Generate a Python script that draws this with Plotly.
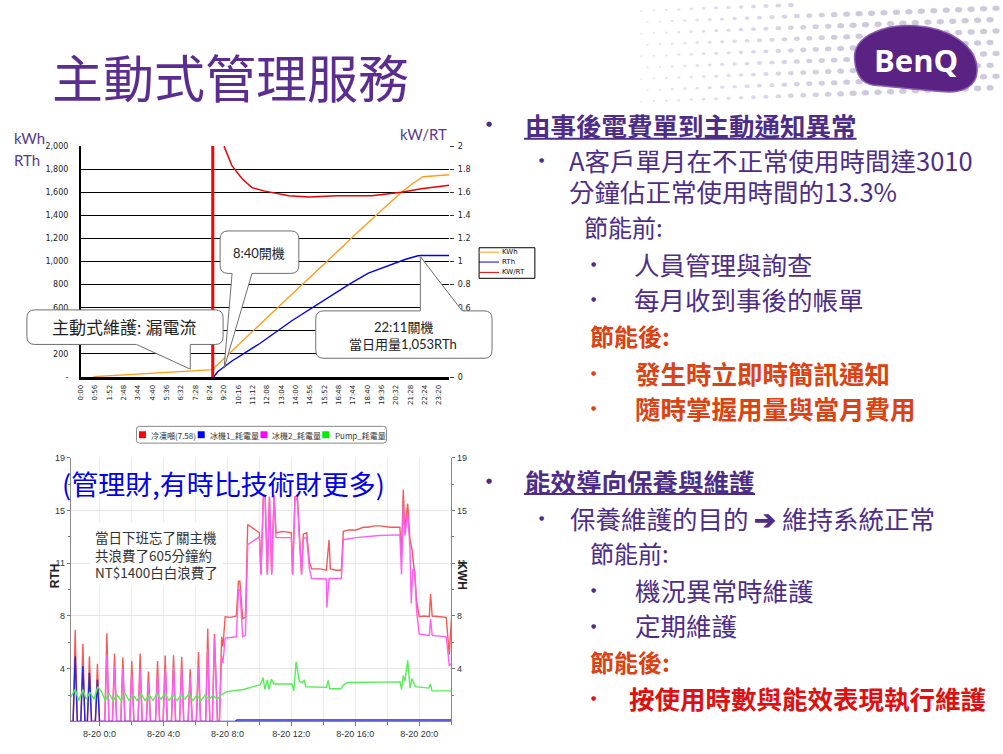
import plotly.graph_objects as go

W, H = 1003, 754


def X(px):
    return px / W


def Y(py):
    return 1 - py / H


# ---------------- top chart data (minutes after 0:00) ----------------
top_tick_labels = ["0:00", "0:56", "1:52", "2:48", "3:44", "4:40", "5:36", "6:32", "7:28",
                   "8:24", "9:20", "10:16", "11:12", "12:08", "13:04", "14:00", "14:56",
                   "15:52", "16:48", "17:44", "18:40", "19:36", "20:32", "21:28", "22:24", "23:20"]
top_tick_minutes = [0, 56, 112, 168, 224, 280, 336, 392, 448, 504, 560, 616, 672, 728, 784,
                    840, 896, 952, 1008, 1064, 1120, 1176, 1232, 1288, 1344, 1400]

kwh_minutes = [50, 150, 280, 410, 518, 522, 600, 700, 800, 900, 1000, 1100, 1200, 1253, 1300, 1337, 1400, 1440]
kwh_values = [3, 17, 32, 52, 64, 80, 248, 455, 665, 870, 1080, 1290, 1490, 1600, 1680, 1735, 1745, 1752]

rth_minutes = [520, 535, 591, 700, 825, 950, 1050, 1124, 1200, 1270, 1318, 1331, 1440]
rth_values = [0, 45, 139, 290, 487, 665, 805, 900, 965, 1020, 1050, 1053, 1053]

kwrt_minutes = [560, 591, 630, 669, 720, 813, 891, 1000, 1136, 1214, 1253, 1331, 1440]
kwrt_values = [2.0, 1.83, 1.72, 1.64, 1.61, 1.57, 1.56, 1.57, 1.57, 1.59, 1.60, 1.63, 1.66]

machine_on_minute = 516

left_tick_values = [0, 200, 400, 600, 800, 1000, 1200, 1400, 1600, 1800, 2000]
left_tick_text = ["-", "200", "400", "600", "800", "1,000", "1,200", "1,400", "1,600", "1,800", "2,000"]
right_tick_values = [0, 0.2, 0.4, 0.6, 0.8, 1.0, 1.2, 1.4, 1.6, 1.8, 2.0]
right_tick_text = ["0", "0.2", "0.4", "0.6", "0.8", "1", "1.2", "1.4", "1.6", "1.8", "2"]

top_legend_names = ["KWh", "RTh", "KW/RT"]
top_colors = ["#ff9c1a", "#0000ee", "#ee0000"]

# ---------------- bottom chart data (hours after 8-20 0:00) ----------------
bottom_tick_hours = [0, 4, 8, 12, 16, 20]
bottom_tick_text = ["8-20 0:0", "8-20 4:0", "8-20 8:0", "8-20 12:0", "8-20 16:0", "8-20 20:0"]
bottom_tick_values = [3.8, 7.6, 11.4, 15.2, 19]
bottom_tick_text_y = ["4", "8", "11", "15", "19"]

bottom_names = ["冷凍噸(7.58)", "冰機1_耗電量", "冰機2_耗電量", "Pump_耗電量"]
bottom_line_colors = ["#f45a5a", "#2a2ad0", "#ff5ef0", "#55ee55"]
bottom_key_colors = ["#ff0000", "#0000ff", "#ff00ff", "#00ee00"]

tons_t = [-1.83, -1.65, -1.52, -1.39, -1.17, -1.04, -0.91, -0.76, -0.63, -0.50, -0.26, -0.13, 0.00,
          0.33, 0.46, 0.59, 0.81, 0.94, 1.07, 1.33, 1.46, 1.59, 1.89, 2.02, 2.15, 2.41, 2.54, 2.67,
          2.93, 3.06, 3.19, 3.50, 3.63, 3.76, 3.98, 4.11, 4.24, 4.50, 4.63, 4.76, 5.01, 5.14, 5.27,
          5.54, 5.67, 5.80, 6.06, 6.19, 6.32, 6.64, 6.77, 6.90, 7.06, 7.19, 7.38, 7.50, 7.64, 7.72,
          7.86, 8.20, 8.56, 8.69, 8.78, 8.96, 9.13, 9.27, 9.63, 10.0, 10.1, 10.25, 10.36, 10.5, 10.63,
          10.77, 10.92, 11.04, 11.5, 12.0, 12.08, 12.23, 12.38, 12.5, 12.64, 12.75, 12.96, 13.13,
          13.27, 13.8, 14.19, 14.36, 14.44, 14.8, 15.13, 15.25, 15.6, 16.06, 16.5, 16.81, 17.2,
          17.54, 18.2, 18.79, 18.89, 19.0, 19.1, 19.28, 19.42, 19.56, 19.73, 19.83, 20.0, 20.3,
          20.63, 20.71, 20.81, 21.3, 21.69, 21.88, 22.02]
tons_v = [0, 0, 6.6, 0, 0, 5.6, 0, 0, 4.7, 0, 0, 4.15, 0,
          0, 6.35, 0, 0, 4.9, 0, 0, 4.6, 0, 0, 4.35, 0, 0, 4.9, 0,
          0, 3.6, 0, 0, 4.35, 0, 0, 4.75, 0, 0, 4.77, 0, 0, 4.65, 0,
          0, 3.75, 0, 0, 5.0, 0, 0, 6.7, 0, 0, 6.3, 0, 0, 6.1, 5.4,
          7.55, 7.5, 7.6, 10.1, 10.1, 7.4, 7.5, 14.2, 13.9, 13.6, 10.6, 16.2, 16.2, 10.6, 16.2,
          10.6, 16.3, 13.6, 13.7, 13.6, 10.6, 16.2, 16.2, 13.5, 10.6, 13.5, 13.6, 11.5,
          11.0, 11.0, 10.9, 13.1, 11.0, 10.9, 10.9, 13.7, 13.8, 13.8, 14.0, 14.0, 14.1,
          14.1, 14.0, 14.0, 12.0, 16.7, 13.9, 15.7, 13.1, 12.3, 10.4, 8.75, 7.55, 7.6,
          7.55, 9.2, 7.6, 7.55, 7.5, 4.8, 7.55]

chiller1_t = [-1.83, -1.65, -1.52, -1.39, -1.17, -1.04, -0.91, -0.76, -0.63, -0.50, -0.26, -0.13,
              0.00, 8.5, 8.6, 22.02]
chiller1_v = [0, 0, 4.7, 0, 0, 4.0, 0, 0, 3.5, 0, 0, 3.0, 0, 0, 0.1, 0.1]

chiller2_t = [-1.83, 0.33, 0.46, 0.59, 0.81, 0.94, 1.07, 1.33, 1.46, 1.59, 1.89, 2.02, 2.15, 2.41,
              2.54, 2.67, 2.93, 3.06, 3.19, 3.50, 3.63, 3.76, 3.98, 4.11, 4.24, 4.50, 4.63, 4.76,
              5.01, 5.14, 5.27, 5.54, 5.67, 5.80, 6.06, 6.19, 6.32, 6.64, 6.77, 6.90, 7.06, 7.19,
              7.38, 7.50, 7.64, 7.72, 7.86, 8.56, 8.69, 8.78, 8.96, 9.13, 9.27, 9.63, 10.0, 10.1,
              10.25, 10.36, 10.5, 10.63, 10.77, 10.92, 11.04, 12.0, 12.08, 12.23, 12.38, 12.5,
              12.64, 12.75, 12.96, 13.13, 13.27, 14.19, 14.22, 14.36, 15.13, 15.25, 16.06, 17.5,
              18.79, 18.89, 19.0, 19.1, 19.28, 19.42, 19.5, 19.6, 19.73, 19.83, 20.0, 20.63, 20.71,
              20.81, 21.69, 21.88, 22.02]
chiller2_v = [0, 0, 4.8, 0, 0, 4.0, 0, 0, 3.8, 0, 0, 3.4, 0, 0,
              3.8, 0, 0, 2.8, 0, 0, 3.35, 0, 0, 3.8, 0, 0, 3.9, 0,
              0, 3.8, 0, 0, 3.15, 0, 0, 3.9, 0, 0, 5.2, 0, 0, 6.0,
              0, 0, 4.7, 4.2, 6.0, 6.1, 9.5, 9.5, 6.1, 6.2, 12.75, 13.0, 13.3, 10.6,
              16.2, 16.2, 10.6, 16.2, 10.6, 16.3, 13.25, 13.25, 10.6, 16.2, 15.9, 13.2,
              10.6, 13.2, 13.25, 11.0, 10.3, 10.27, 8.2, 10.3, 10.3, 13.1, 13.25, 13.4,
              13.45, 10.6, 15.5, 13.4, 15.0, 12.5, 8.5, 11.0, 10.8, 8.0, 6.3, 6.2, 7.4,
              6.2, 6.1, 4.0, 4.2]

pump_t = [-1.83, -1.52, -1.30, -1.04, -0.83, -0.60, -0.35, -0.10, 0.15, 0.35, 0.60, 0.85, 1.10,
          1.35, 1.60, 1.85, 2.10, 2.35, 2.60, 2.85, 3.10, 3.35, 3.60, 3.85, 4.10, 4.35, 4.60, 4.85,
          5.10, 5.35, 5.60, 5.85, 6.10, 6.35, 6.60, 6.85, 7.10, 7.35, 7.60, 7.98, 9.0, 10.06, 10.23,
          10.34, 10.5, 10.6, 10.75, 10.9, 12.04, 12.15, 12.3, 12.5, 12.7, 12.8, 12.9, 14.2, 14.3,
          14.4, 15.1, 15.25, 15.5, 18.8, 18.89, 19.0, 19.1, 19.28, 19.42, 19.56, 19.75, 20.6, 20.7,
          20.8, 22.02]
pump_v = [1.7, 2.3, 1.5, 2.3, 1.6, 2.1, 1.6, 2.5, 2.1, 1.5, 2.0, 1.5, 1.9,
          1.5, 2.0, 1.5, 1.9, 1.5, 2.0, 1.5, 1.9, 1.5, 2.0, 1.6, 2.0, 1.5, 1.9, 1.5,
          1.9, 1.6, 2.0, 1.5, 1.9, 1.5, 1.9, 1.6, 1.9, 1.6, 1.9, 2.15, 2.3, 2.65, 3.15,
          2.3, 3.0, 2.3, 3.05, 2.7, 2.7, 2.2, 4.3, 2.9, 2.8, 3.0, 2.5, 2.45, 2.95,
          2.35, 2.35, 2.6, 2.8, 2.85, 2.3, 3.3, 2.9, 4.4, 2.4, 3.1, 2.5, 2.4, 2.7,
          2.2, 2.2]

PURPLE = "#4e2d88"
ORANGE = "#dc4212"
REDTXT = "#e01010"
CJK = "Noto Sans CJK TC"

fig = go.Figure()

# ---- top chart traces ----
fig.add_trace(go.Scatter(x=kwh_minutes, y=kwh_values, mode="lines", name=top_legend_names[0],
                         line=dict(color=top_colors[0], width=1.4), xaxis="x", yaxis="y", showlegend=False))
fig.add_trace(go.Scatter(x=rth_minutes, y=rth_values, mode="lines", name=top_legend_names[1],
                         line=dict(color=top_colors[1], width=1.4), xaxis="x", yaxis="y", showlegend=False))
fig.add_trace(go.Scatter(x=[machine_on_minute, machine_on_minute], y=[0, 2000], mode="lines",
                         line=dict(color="#ff0000", width=3), xaxis="x", yaxis="y", showlegend=False,
                         hoverinfo="skip"))
fig.add_trace(go.Scatter(x=kwrt_minutes, y=kwrt_values, mode="lines", name=top_legend_names[2],
                         line=dict(color=top_colors[2], width=1.5), xaxis="x", yaxis="y3", showlegend=False))

# ---- bottom chart traces ----
fig.add_trace(go.Scatter(x=tons_t, y=tons_v, mode="lines", name=bottom_names[0],
                         line=dict(color=bottom_line_colors[0], width=1.4), xaxis="x2", yaxis="y2", showlegend=False))
fig.add_trace(go.Scatter(x=chiller2_t, y=chiller2_v, mode="lines", name=bottom_names[2],
                         line=dict(color=bottom_line_colors[2], width=1.4), xaxis="x2", yaxis="y4", showlegend=False))
fig.add_trace(go.Scatter(x=chiller1_t, y=chiller1_v, mode="lines", name=bottom_names[1],
                         line=dict(color=bottom_line_colors[1], width=1.4), xaxis="x2", yaxis="y4", showlegend=False))
fig.add_trace(go.Scatter(x=pump_t, y=pump_v, mode="lines", name=bottom_names[3],
                         line=dict(color=bottom_line_colors[3], width=1.4), xaxis="x2", yaxis="y4", showlegend=False))

tickf_top = dict(family="DejaVu Sans", size=8, color="#222")
tickf_bot = dict(family="Liberation Sans Narrow, Liberation Sans", size=9, color="#333")

fig.update_layout(
    width=W, height=H, margin=dict(l=0, r=0, t=0, b=0),
    paper_bgcolor="white", plot_bgcolor="white",
    xaxis=dict(domain=[X(77), X(447)], range=[0, 1440], anchor="y",
               tickmode="array", tickvals=top_tick_minutes, ticktext=top_tick_labels,
               tickangle=-90, tickfont=dict(family="DejaVu Sans", size=7, color="#222"),
               showgrid=False, zeroline=False, showline=True, linecolor="black", linewidth=3,
               ticks="", ticklabelstandoff=2),
    yaxis=dict(domain=[Y(377), Y(143)], range=[0, 2000], anchor="x",
               tickmode="array", tickvals=left_tick_values, ticktext=left_tick_text,
               tickfont=tickf_top, showgrid=True, gridcolor="black", gridwidth=1,
               zeroline=False, showline=True, linecolor="black", linewidth=1.5,
               ticks="", ticklabelstandoff=9),
    yaxis3=dict(overlaying="y", side="right", range=[0, 2], anchor="x",
                tickmode="array", tickvals=right_tick_values, ticktext=right_tick_text,
                tickfont=tickf_top, showgrid=False, zeroline=False, showline=False,
                ticks="outside", ticklen=4, tickcolor="#333", ticklabelstandoff=2),
    xaxis2=dict(domain=[X(67), X(449)], range=[-1.8, 22.0], anchor="y2",
                tickmode="array", tickvals=bottom_tick_hours, ticktext=bottom_tick_text,
                tickfont=tickf_bot, showgrid=True, gridcolor="#ececec",
                minor=dict(tickvals=[-2, 2, 6, 10, 14, 18, 22], ticks="outside", ticklen=3,
                           tickcolor="#777", showgrid=True, gridcolor="#ececec"),
                zeroline=False, showline=True, linecolor="#888", linewidth=1,
                ticks="outside", ticklen=4, tickcolor="#777"),
    yaxis2=dict(domain=[Y(726), Y(459)], range=[0, 19], anchor="x2",
                tickmode="array", tickvals=bottom_tick_values, ticktext=bottom_tick_text_y,
                tickfont=tickf_bot, showgrid=True, gridcolor="#e6e6e6",
                minor=dict(tickvals=[1.9, 5.7, 9.5, 13.3, 17.1], ticks="outside", ticklen=2,
                           tickcolor="#777", showgrid=False),
                zeroline=False, showline=True, linecolor="#888", linewidth=1,
                ticks="outside", ticklen=3, tickcolor="#777"),
    yaxis4=dict(overlaying="y2", side="right", range=[0, 19], anchor="x2",
                tickmode="array", tickvals=bottom_tick_values, ticktext=bottom_tick_text_y,
                tickfont=tickf_bot, showgrid=False,
                minor=dict(tickvals=[1.9, 5.7, 9.5, 13.3, 17.1], ticks="outside", ticklen=2,
                           tickcolor="#777"),
                zeroline=False, showline=True, linecolor="#888", linewidth=1,
                ticks="outside", ticklen=3, tickcolor="#777"),
    showlegend=False,
)


def bubble(x0, y0, x1, y1, r, base_a, base_b, tip, side):
    c = []
    c.append(f"M {X(x0 + r)},{Y(y0)}")
    if side == "top":
        c.append(f"L {X(base_a)},{Y(y0)} L {X(tip[0])},{Y(tip[1])} L {X(base_b)},{Y(y0)}")
    c.append(f"L {X(x1 - r)},{Y(y0)} Q {X(x1)},{Y(y0)} {X(x1)},{Y(y0 + r)}")
    c.append(f"L {X(x1)},{Y(y1 - r)} Q {X(x1)},{Y(y1)} {X(x1 - r)},{Y(y1)}")
    if side == "bottom":
        c.append(f"L {X(base_b)},{Y(y1)} L {X(tip[0])},{Y(tip[1])} L {X(base_a)},{Y(y1)}")
    c.append(f"L {X(x0 + r)},{Y(y1)} Q {X(x0)},{Y(y1)} {X(x0)},{Y(y1 - r)}")
    c.append(f"L {X(x0)},{Y(y0 + r)} Q {X(x0)},{Y(y0)} {X(x0 + r)},{Y(y0)} Z")
    return " ".join(c)


shapes = []

# decorative dot pattern behind the logo (page decoration, not data)
for row in range(9):
    for col in range(30):
        cx = 640 + col * 12.5 + (row % 2) * 6
        cy = 6 + row * 11.5 - (cx - 640) * 0.04
        if cx > 1000 or cy > 102 or cy < 0:
            continue
        f = min(1.0, max(0.0, (cx - 640) / 220))
        rad = 1.0 + 1.8 * f
        g = int(236 - 30 * f)
        shapes.append(dict(type="circle", xref="paper", yref="paper",
                           x0=X(cx - rad * 1.3), x1=X(cx + rad * 1.3), y0=Y(cy + rad), y1=Y(cy - rad),
                           fillcolor=f"rgb({g},{g - 4},{min(255, g + 14)})", line=dict(width=0),
                           layer="below"))

for path in [
    bubble(217, 229, 296, 272, 8, 229, 249, (221, 368), "bottom"),
    bubble(23, 309, 220, 344, 8, 133, 187, (187, 369), "bottom"),
    bubble(313, 310, 490, 358, 8, 418, 460, (418, 255), "top"),
]:
    shapes.append(dict(type="path", path=path, xref="paper", yref="paper",
                       fillcolor="white", line=dict(color="#6f6f6f", width=1), layer="above"))

# top legend box
shapes.append(dict(type="rect", xref="paper", yref="paper", x0=X(477), x1=X(533), y0=Y(277), y1=Y(246),
                   fillcolor="white", line=dict(color="black", width=1), layer="above"))
legend_rows = [250.5, 260.5, 271]
for i, yy in enumerate(legend_rows):
    shapes.append(dict(type="line", xref="paper", yref="paper", x0=X(477), x1=X(497), y0=Y(yy), y1=Y(yy),
                       line=dict(color=top_colors[i], width=1), layer="above"))

# bottom legend box
shapes.append(dict(type="path", xref="paper", yref="paper",
                   path=bubble(133, 427, 384, 444, 3, 0, 0, (0, 0), "none"),
                   fillcolor="white", line=dict(color="#888", width=1), layer="above"))
bottom_key_x = [139, 198, 261, 323]
for i, kx in enumerate(bottom_key_x):
    shapes.append(dict(type="rect", xref="paper", yref="paper", x0=X(kx - 3.5), x1=X(kx + 3.5),
                       y0=Y(439), y1=Y(432), fillcolor=bottom_key_colors[i], line=dict(width=0),
                       layer="above"))

# underlines
shapes.append(dict(type="line", xref="paper", yref="paper", x0=X(522), x1=X(856), y0=Y(135.5), y1=Y(135.5),
                   line=dict(color=PURPLE, width=2)))
shapes.append(dict(type="line", xref="paper", yref="paper", x0=X(522), x1=X(754), y0=Y(495.5), y1=Y(495.5),
                   line=dict(color=PURPLE, width=2)))

# logo blob
shapes.append(dict(type="path", xref="paper", yref="paper",
                   path=(f"M {X(854)},{Y(55)} C {X(852)},{Y(31)} {X(885)},{Y(19)} {X(915)},{Y(21)} "
                         f"C {X(950)},{Y(23)} {X(977)},{Y(42)} {X(977)},{Y(66)} "
                         f"C {X(977)},{Y(83)} {X(962)},{Y(89)} {X(945)},{Y(88)} "
                         f"C {X(915)},{Y(86)} {X(895)},{Y(83)} {X(872)},{Y(81)} "
                         f"C {X(860)},{Y(79)} {X(855)},{Y(68)} {X(854)},{Y(55)} Z"),
                   fillcolor="#5a2282", line=dict(color="#8a5ab5", width=1.5), layer="above"))

fig.update_layout(shapes=shapes)

ann = []


def T(x, y, text, size, color, xanchor="left", family=CJK, **kw):
    d = dict(x=X(x), y=Y(y), xref="paper", yref="paper", text=text, showarrow=False,
             xanchor=xanchor, yanchor="middle", font=dict(family=family, size=size, color=color))
    d.update(kw)
    ann.append(d)


# title and logo text
T(46, 72, "主動式管理服務", 51, "#5c2d91")
T(916, 56, "<b>BenQ</b>", 31, "white", xanchor="center", family="Open Sans")

# top chart axis titles
T(8, 135, "kWh", 15, "#5a3a8a", family="Lato")
T(8, 157, "RTh", 15, "#5a3a8a", family="Lato")
T(396, 131, "kW/RT", 15, "#5a3a8a", family="Lato")

# top callout texts
T(256, 251, "8:40開機", 13, "#222", xanchor="center", family="Lato, " + CJK)
T(121, 327, "主動式維護: 漏電流", 17, "#222", xanchor="center", family="Lato, " + CJK)
T(401, 326, "22:11關機", 13, "#222", xanchor="center", family="Lato, " + CJK)
T(401, 344, "當日用量1,053RTh", 13, "#222", xanchor="center", family="Lato, " + CJK)

# top legend texts
for i, yy in enumerate(legend_rows):
    T(498, yy, top_legend_names[i], 7, "#111", family="DejaVu Sans")

# bottom legend texts
bottom_key_text_x = [146, 205, 267, 330]
for i, tx in enumerate(bottom_key_text_x):
    T(tx, 436, bottom_names[i], 8, "#333", family="Liberation Sans Narrow, " + CJK)

# bottom chart overlays
T(56, 485, "(管理財,有時比技術財更多)", 27, "#0000ee")
T(86, 557, "當日下班忘了關主機<br>共浪費了605分鐘約<br>NT$1400白白浪費了", 13.5, "#333",
  align="left", bgcolor="white", borderpad=4)
T(52, 578, "<b>RTH</b>", 12, "#222", xanchor="center", family="Liberation Sans", textangle=-90)
T(459, 578, "<b>KWH</b>", 12, "#222", xanchor="center", family="Liberation Sans", textangle=90)

# right side text
BF = "DejaVu Sans"
T(482, 121, "●", 7, PURPLE, family=BF)
T(521, 121, "<b>由事後電費單到主動通知異常</b>", 25.5, PURPLE)
T(535, 157, "●", 6, PURPLE, family=BF)
T(565, 157, "A客戶單月在不正常使用時間達3010", 25.5, PURPLE)
T(565, 188, "分鐘佔正常使用時間的13.3%", 25.5, PURPLE)
T(580, 224, "節能前:", 24, PURPLE)
T(587, 262, "●", 6, PURPLE, family=BF)
T(631, 262, "人員管理與詢查", 25.5, PURPLE)
T(587, 297, "●", 6, PURPLE, family=BF)
T(631, 297, "每月收到事後的帳單", 25.5, PURPLE)
T(586, 335, "<b>節能後:</b>", 24, ORANGE)
T(587, 372, "●", 6, ORANGE, family=BF)
T(632, 372, "<b>發生時立即時簡訊通知</b>", 25.5, ORANGE)
T(587, 408, "●", 6, ORANGE, family=BF)
T(632, 408, "<b>隨時掌握用量與當月費用</b>", 25.5, ORANGE)
T(482, 482, "●", 7, PURPLE, family=BF)
T(521, 482, "<b>能效導向保養與維護</b>", 25.5, PURPLE)
T(535, 519, "●", 6, PURPLE, family=BF)
T(566, 519, "保養維護的目的 <b>➔</b> 維持系統正常", 25.5, PURPLE)
T(586, 555, "節能前:", 24, PURPLE)
T(587, 592, "●", 6, PURPLE, family=BF)
T(632, 592, "機況異常時維護", 25.5, PURPLE)
T(587, 629, "●", 6, PURPLE, family=BF)
T(632, 628, "定期維護", 25.5, PURPLE)
T(586, 665, "<b>節能後:</b>", 24, ORANGE)
T(587, 702, "●", 6, REDTXT, family=BF)
T(625, 702, "<b>按使用時數與能效表現執行維護</b>", 25.5, REDTXT)

fig.update_layout(annotations=ann)

fig.write_html("out.html", config={"displayModeBar": False},
               post_script="document.body.style.margin='0';")
